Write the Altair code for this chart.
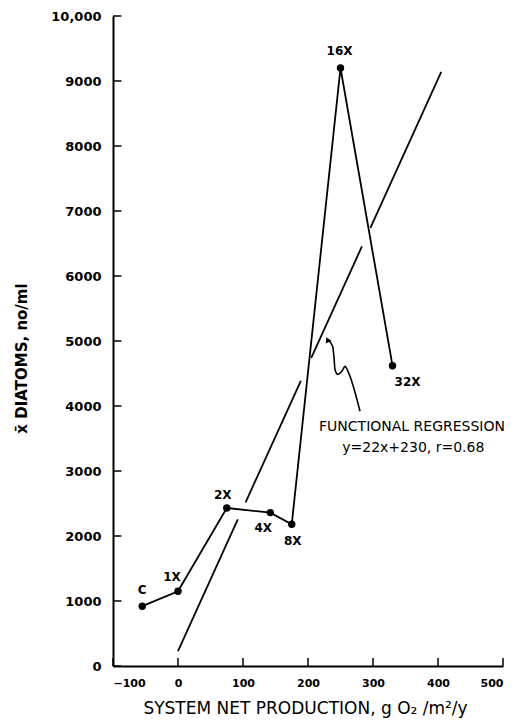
import altair as alt
import pandas as pd

# ---- data ----
labels = ["C", "1X", "2X", "4X", "8X", "16X", "32X"]
production = [-55, 0, 75, 142, 175, 250, 330]
diatoms = [920, 1150, 2430, 2360, 2180, 9200, 4620]

# functional regression y = 22x + 230, drawn in pieces (broken where it crosses the data line)
reg_slope = 22
reg_intercept = 230
reg_start = [0, 104, 205, 296]
reg_end = [92, 189, 283, 405]

# wavy annotation arrow (tail -> tip)
arrow_x = [280, 261.5, 257, 252, 246, 241.5, 240, 238, 230]
arrow_y = [3920, 4533, 4609, 4533, 4487, 4563, 4747, 4916, 5020]

annot_lines = ["FUNCTIONAL REGRESSION", "y=22x+230, r=0.68"]
annot_x = [360, 362]
annot_y = [3610, 3300]

x_ticks = [-100, 0, 100, 200, 300, 400, 500]
y_ticks = [0, 1000, 2000, 3000, 4000, 5000, 6000, 7000, 8000, 9000, 10000]

# ---- frames ----
pts = pd.DataFrame({"label": labels, "x": production, "y": diatoms, "order": range(len(labels))})
# label offsets (layout only)
offs = {"C": (0, -16), "1X": (-6, -14), "2X": (-4, -13), "4X": (-7, 15),
        "8X": (1, 17), "16X": (-1, -17), "32X": (15, 16)}

reg = pd.DataFrame({"x": reg_start, "x2": reg_end})
arrow = pd.DataFrame({"x": arrow_x, "y": arrow_y, "order": range(len(arrow_x))})
tip = arrow.tail(1)
annot = pd.DataFrame({"text": annot_lines, "x": annot_x, "y": annot_y})
xt = pd.DataFrame({"x": x_ticks})
yt = pd.DataFrame({"y": y_ticks})

xs = alt.Scale(domain=[-100, 500], nice=False, zero=False)
ys = alt.Scale(domain=[0, 10000], nice=False)

FONT = "DejaVu Sans"
INK = "#000000"
X_TITLE = "SYSTEM NET PRODUCTION, g O\u2082 /m\u00b2/y"
Y_TITLE = "x\u0304 DIATOMS, no/ml"

x_axis = alt.Axis(values=x_ticks, grid=False, ticks=False, tickSize=0,
                  domainColor=INK, domainWidth=2,
                  labelFont=FONT, labelFontWeight="bold", labelFontSize=11,
                  labelColor=INK, labelPadding=11,
                  titleFont=FONT, titleFontWeight="normal", titleFontSize=17,
                  titleColor=INK, titleBaseline="alphabetic", titleY=47, titleX=192)
y_axis = alt.Axis(values=y_ticks, grid=False, ticks=False, tickSize=0,
                  domainColor=INK, domainWidth=2,
                  labelFont=FONT, labelFontWeight="bold", labelFontSize=13,
                  labelColor=INK, labelPadding=12,
                  labelExpr="datum.value == 10000 ? '10,000' : format(datum.value, 'd')",
                  titleFont=FONT, titleFontWeight="bold", titleFontSize=15,
                  titleColor=INK, titleX=-84, titleY=342)


def X(field):
    return alt.X(field, type="quantitative", scale=xs, axis=x_axis, title=X_TITLE)


def Y(field):
    return alt.Y(field, type="quantitative", scale=ys, axis=y_axis, title=Y_TITLE)


data_line = alt.Chart(pts).mark_line(color=INK, strokeWidth=1.8).encode(
    x=X("x"), y=Y("y"), order="order:Q",
)

dots = alt.Chart(pts).mark_circle(color=INK, size=55, opacity=1).encode(
    x=X("x"), y=Y("y"),
)

label_layers = []
for lab, (dx, dy) in offs.items():
    label_layers.append(
        alt.Chart(pts).transform_filter(alt.datum.label == lab)
        .mark_text(font=FONT, fontWeight="bold", fontSize=12, color=INK,
                   dx=dx, dy=dy, baseline="middle", align="center")
        .encode(x=X("x"), y=Y("y"), text="label:N")
    )

reg_line = alt.Chart(reg).transform_calculate(
    y=f"{reg_slope} * datum.x + {reg_intercept}",
    y2=f"{reg_slope} * datum.x2 + {reg_intercept}",
).mark_rule(color=INK, strokeWidth=1.8).encode(
    x=X("x"), x2="x2:Q", y=Y("y"), y2="y2:Q",
)

arrow_line = alt.Chart(arrow).mark_line(color=INK, strokeWidth=1.6, interpolate="monotone").encode(
    x=X("x"), y=Y("y"), order="order:Q",
)
arrow_head = alt.Chart(tip).mark_point(shape="triangle-up", filled=True, color=INK,
                                       size=40, angle=335, opacity=1).encode(
    x=X("x"), y=Y("y"),
)

annot_text = alt.Chart(annot).mark_text(font=FONT, fontSize=14, color=INK,
                                        align="center", baseline="alphabetic").encode(
    x=X("x"), y=Y("y"), text="text:N",
)

x_tick_marks = alt.Chart(xt).transform_calculate(y0="0", y1="122").mark_rule(
    color=INK, strokeWidth=1.5).encode(
    x=X("x"), y=Y("y0"), y2="y1:Q",
)
y_tick_marks = alt.Chart(yt).transform_calculate(x0="-100", x1="-87").mark_rule(
    color=INK, strokeWidth=1.5).encode(
    y=Y("y"), x=X("x0"), x2="x1:Q",
)

chart = alt.layer(
    data_line, reg_line, arrow_line, arrow_head, dots, annot_text,
    x_tick_marks, y_tick_marks, *label_layers
).properties(
    width=390, height=650,
    background="white",
    autosize=alt.AutoSizeParams(type="none"),
    padding={"left": 105, "top": 8, "right": 7, "bottom": 52},
).configure_view(stroke=None)

chart.save("out.html", embed_options={"renderer": "svg", "actions": False})
